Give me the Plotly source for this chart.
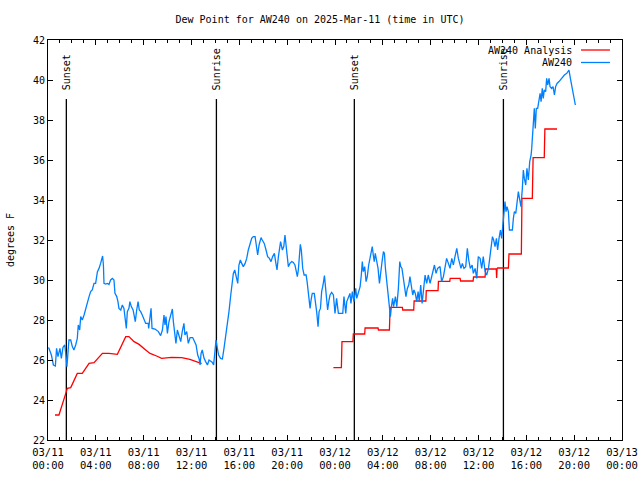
import plotly.graph_objects as go
import pandas as pd

START = pd.Timestamp("2025-03-11 00:00")
END = pd.Timestamp("2025-03-13 00:00")

# ---- AW240 observed dew point: minutes after 2025-03-11 00:00 UTC, deg F ----
aw240_min = [3, 17, 27, 37, 43, 50, 60, 67, 75, 84, 90, 95, 105, 114, 122, 130, 139, 147, 152, 159,
             164, 172, 181, 189, 197, 206, 214, 222, 231, 239, 248, 256, 264, 269, 274, 278, 281, 289, 298, 306,
             314, 323, 331, 336, 345, 351, 356, 365, 373, 381, 386, 393, 398, 406, 411, 418, 427, 432, 438, 445,
             452, 458, 465, 473, 490, 503, 505, 517, 522, 537, 554, 565, 574, 582, 587, 592, 599, 607, 616, 624,
             629, 637, 642, 649, 657, 666, 674, 682, 687, 696, 704, 713, 726, 734, 743, 751, 758, 763, 768, 774,
             783, 791, 800, 808, 816, 825, 831, 838, 843, 850, 856, 866, 875, 883, 892, 900, 908, 917, 923, 930,
             937, 947, 952, 958, 965, 972, 980, 989, 997, 1005, 1014, 1022, 1030, 1039, 1045, 1052, 1059, 1069, 1075, 1085,
             1094, 1102, 1111, 1119, 1127, 1136, 1142, 1149, 1156, 1162, 1167, 1176, 1183, 1189, 1194, 1199, 1206, 1214, 1223, 1231,
             1239, 1246, 1251, 1256, 1261, 1266, 1271, 1278, 1285, 1295, 1300, 1305, 1310, 1315, 1320, 1326, 1336, 1343, 1348, 1355,
             1360, 1367, 1373, 1380, 1387, 1393, 1398, 1403, 1410, 1415, 1423, 1432, 1440, 1448, 1457, 1469, 1479, 1485, 1494, 1499,
             1507, 1515, 1520, 1527, 1535, 1544, 1549, 1557, 1566, 1572, 1577, 1582, 1589, 1596, 1602, 1609, 1616, 1622, 1627, 1632,
             1637, 1642, 1649, 1656, 1663, 1669, 1676, 1683, 1688, 1693, 1699, 1706, 1713, 1718, 1723, 1729, 1734, 1743, 1750, 1758,
             1765, 1770, 1776, 1783, 1790, 1796, 1803, 1810, 1816, 1823, 1830, 1836, 1843, 1850, 1857, 1863, 1870, 1877, 1883, 1892,
             1900, 1908, 1917, 1928, 1939, 1947, 1955, 1967, 1975, 1984, 1992, 2000, 2009, 2017, 2026, 2034, 2042, 2051, 2059, 2066,
             2072, 2079, 2087, 2096, 2104, 2111, 2119, 2128, 2134, 2143, 2151, 2159, 2168, 2176, 2184, 2193, 2201, 2210, 2218, 2223,
             2230, 2236, 2243, 2250, 2256, 2263, 2270, 2276, 2281, 2286, 2293, 2298, 2303, 2310, 2315, 2323, 2330, 2335, 2340, 2347,
             2353, 2360, 2367, 2373, 2380, 2385, 2390, 2397, 2403, 2410, 2417, 2424, 2427, 2430, 2435, 2440, 2445, 2450, 2457, 2464,
             2469, 2474, 2480, 2485, 2490, 2497, 2502, 2507, 2514, 2519, 2527, 2534, 2541, 2547, 2554, 2564, 2577, 2591, 2603, 2614,
             2621, 2628, 2634, 2641, 2646]
aw240_val = [26.63, 26.25, 25.75, 25.7, 26.58, 26.17, 26.58, 26.08, 26.63, 26.75, 26.25, 25.67, 27.0, 27.0, 26.67, 26.5, 26.75, 27.08, 27.75, 27.5,
             28.17, 28.0, 28.25, 28.58, 28.92, 29.17, 29.42, 29.5, 29.83, 29.83, 30.42, 30.58, 30.83, 31.0, 31.2, 30.75, 29.83, 29.8, 29.83, 29.78,
             30.0, 30.08, 30.0, 29.33, 29.17, 28.92, 28.58, 28.5, 28.75, 28.58, 28.0, 27.58, 28.42, 28.58, 28.92, 28.67, 28.5, 28.17, 27.92, 28.5,
             28.92, 28.5, 28.42, 28.25, 27.83, 27.83, 27.58, 28.58, 27.58, 27.55, 27.42, 27.22, 27.5, 28.25, 27.75, 28.17, 27.33, 27.92, 28.33, 28.55,
             27.92, 27.25, 26.83, 27.5, 27.17, 26.92, 27.45, 27.83, 27.25, 27.42, 26.83, 27.12, 27.12, 26.92, 26.75, 26.25, 26.08, 25.75, 26.33, 26.5,
             26.08, 25.92, 25.75, 26.0, 25.92, 25.88, 25.75, 26.75, 27.0, 26.58, 26.25, 26.08, 26.05, 26.58, 27.17, 27.75, 28.42, 29.25, 29.92, 30.33,
             30.5, 30.08, 29.83, 30.75, 31.0, 30.83, 30.67, 30.83, 31.08, 31.5, 31.83, 32.08, 32.17, 32.17, 31.75, 31.25, 31.75, 32.12, 32.0, 31.83,
             31.5, 31.17, 31.08, 30.92, 31.17, 31.33, 30.92, 30.5, 31.17, 31.67, 31.92, 31.5, 31.67, 32.25, 31.75, 31.08, 30.67, 30.83, 30.92, 30.88,
             30.75, 30.42, 30.17, 30.5, 31.42, 31.78, 31.5, 30.58, 30.25, 30.25, 29.92, 29.33, 28.75, 28.58, 29.0, 29.33, 29.33, 28.83, 28.42, 27.67,
             28.42, 28.58, 29.42, 29.75, 30.22, 29.58, 28.83, 28.5, 29.0, 29.25, 29.38, 29.25, 28.33, 29.08, 28.33, 28.33, 28.33, 29.17, 28.33, 28.92,
             29.17, 29.33, 28.83, 29.42, 28.92, 29.58, 29.08, 29.33, 29.67, 30.25, 30.92, 30.42, 30.67, 29.92, 30.17, 30.75, 31.08, 31.42, 31.67, 31.25,
             30.92, 31.33, 31.0, 30.58, 29.83, 30.5, 30.92, 31.42, 31.33, 30.58, 30.0, 29.58, 28.92, 28.17, 28.67, 29.08, 28.67, 29.17, 28.67, 29.58,
             30.92, 30.67, 30.58, 30.0, 29.5, 29.17, 29.58, 29.75, 30.17, 29.67, 29.25, 29.5, 29.33, 28.92, 29.42, 28.92, 29.75, 28.83, 29.42, 30.25,
             29.83, 30.25, 29.83, 30.25, 30.75, 30.33, 30.58, 30.67, 29.92, 30.17, 30.58, 31.08, 30.83, 30.58, 31.08, 30.75, 31.17, 31.58, 31.08, 30.75,
             30.58, 30.83, 30.58, 30.67, 31.58, 31.0, 30.58, 30.75, 30.33, 30.58, 30.08, 31.17, 31.08, 30.58, 31.17, 30.42, 30.25, 30.58, 31.25, 31.83,
             32.17, 32.0, 31.67, 32.08, 31.5, 32.08, 32.5, 32.08, 32.75, 33.25, 33.92, 33.42, 33.67, 33.42, 32.5, 32.5, 32.5, 33.08, 33.42, 33.33,
             33.92, 34.42, 34.0, 33.67, 34.58, 35.5, 35.08, 34.75, 35.58, 35.0, 35.92, 36.25, 36.58, 37.08, 37.92, 38.58, 37.58, 38.58, 38.58, 38.92,
             39.33, 38.92, 39.58, 39.08, 39.5, 39.42, 40.08, 39.75, 40.08, 39.67, 39.58, 39.67, 39.25, 39.67, 39.83, 39.92, 40.08, 40.25, 40.33, 40.5,
             40.08, 39.75, 39.42, 39.08, 38.75]

# ---- AW240 Analysis: two separate runs (gap between them) ----
ana1_min = [35, 55, 92, 97, 114, 147, 172, 206, 231, 273, 306, 348, 390, 406, 432, 457, 487, 512, 545, 570, 620, 671, 712, 738, 768, 771]
ana1_val = [23.25, 23.25, 24.42, 24.58, 24.62, 25.33, 25.33, 25.83, 25.87, 26.33, 26.33, 26.28, 27.17, 27.17, 26.92, 26.78, 26.53, 26.33,
            26.2, 26.08, 26.13, 26.12, 26.03, 25.92, 25.83, 25.83]
ana2_min = [1432, 1472, 1475, 1530, 1532, 1589, 1591, 1656, 1658, 1713, 1716, 1718, 1778, 1780, 1835, 1837, 1896, 1898, 1957, 1959,
            2016, 2018, 2068, 2070, 2133, 2135, 2193, 2196, 2249, 2251, 2253, 2256, 2310, 2313, 2375, 2378, 2430, 2434, 2490, 2493, 2554]
ana2_val = [25.62, 25.62, 26.92, 26.92, 27.3, 27.3, 27.6, 27.6, 27.5, 27.5, 28.45, 28.63, 28.63, 28.5, 28.5, 28.95, 28.95, 29.47, 29.47, 29.93,
            29.93, 30.08, 30.08, 29.95, 29.95, 30.15, 30.15, 30.55, 30.55, 30.1, 30.55, 30.6, 30.6, 31.3, 31.3, 34.08, 34.08, 36.12, 36.12, 37.55, 37.55]

# ---- Sun events (minutes after start) ----
sun_labels = ["Sunset", "Sunrise", "Sunset", "Sunrise"]
sun_min = [92, 845, 1537, 2285]

Y_MIN, Y_MAX = 22, 42
SUN_LINE_TOP = 39.05
RED = "#ff0000"
BLUE = "#0080ff"
FONT = dict(family="DejaVu Sans Mono, Liberation Mono, monospace", size=10, color="black")


def to_time(mins):
    return [START + pd.Timedelta(minutes=m) for m in mins]


fig = go.Figure()

for lab, m in zip(sun_labels, sun_min):
    t = to_time([m])[0]
    fig.add_trace(go.Scatter(x=[t, t], y=[Y_MIN, SUN_LINE_TOP], mode="lines",
                             line=dict(color="black", width=1.3), showlegend=False, hoverinfo="skip"))
    fig.add_annotation(x=t, y=39.4, text=lab, textangle=-90, showarrow=False,
                       xanchor="center", yanchor="bottom", font=FONT)

fig.add_trace(go.Scatter(x=to_time(ana1_min), y=ana1_val, mode="lines",
                         line=dict(color=RED, width=1.3), name="AW240 Analysis", showlegend=False))
fig.add_trace(go.Scatter(x=to_time(ana2_min), y=ana2_val, mode="lines",
                         line=dict(color=RED, width=1.3), name="AW240 Analysis", showlegend=False))
fig.add_trace(go.Scatter(x=to_time(aw240_min), y=aw240_val, mode="lines",
                         line=dict(color=BLUE, width=1.3), name="AW240", showlegend=False))

# gnuplot-style legend: text on the left, sample line on the right
legend_items = [("AW240 Analysis", RED, 0.975), ("AW240", BLUE, 0.94375)]
for txt, col, yy in legend_items:
    fig.add_annotation(xref="paper", yref="paper", x=0.9164, y=yy, text=txt, showarrow=False,
                       xanchor="right", yanchor="middle", font=FONT)
    fig.add_shape(type="line", xref="paper", yref="paper", x0=0.9286, x1=0.979, y0=yy, y1=yy,
                  line=dict(color=col, width=1.3))

fig.add_annotation(xref="paper", yref="paper", x=-0.066, y=0.5, text="degrees F", textangle=-90,
                   showarrow=False, xanchor="center", yanchor="middle", font=FONT)

fig.update_layout(
    width=640, height=480,
    margin=dict(l=48, r=18, t=40, b=40),
    paper_bgcolor="white", plot_bgcolor="white",
    font=FONT,
    title=dict(text="Dew Point for AW240 on 2025-Mar-11 (time in UTC)", x=0.5, xanchor="center",
               y=1 - 19 / 480, yanchor="middle", yref="container", font=FONT),
    showlegend=False,
)
fig.update_xaxes(
    range=[START, END], type="date", automargin=False,
    tick0=START, dtick=4 * 3600 * 1000, tickformat="%m/%d<br>%H:%M",
    ticks="inside", ticklen=5, tickcolor="black", tickwidth=1, ticklabelstandoff=2,
    minor=dict(dtick=3600 * 1000, ticks="inside", ticklen=3, tickcolor="black", showgrid=False),
    showline=True, linecolor="black", linewidth=1, mirror="ticks",
    showgrid=False, zeroline=False, tickfont=dict(FONT, size=10.5),
)
fig.update_yaxes(
    range=[Y_MIN, Y_MAX], dtick=2, automargin=False,
    ticks="inside", ticklen=5, tickcolor="black", tickwidth=1,
    showline=True, linecolor="black", linewidth=1, mirror="ticks",
    showgrid=False, zeroline=False, tickfont=FONT,
)

fig.write_html("out.html", config={"displayModeBar": False, "staticPlot": True},
               post_script="document.body.style.margin='0';document.body.style.padding='0';"
                           "document.body.style.overflow='hidden';")
